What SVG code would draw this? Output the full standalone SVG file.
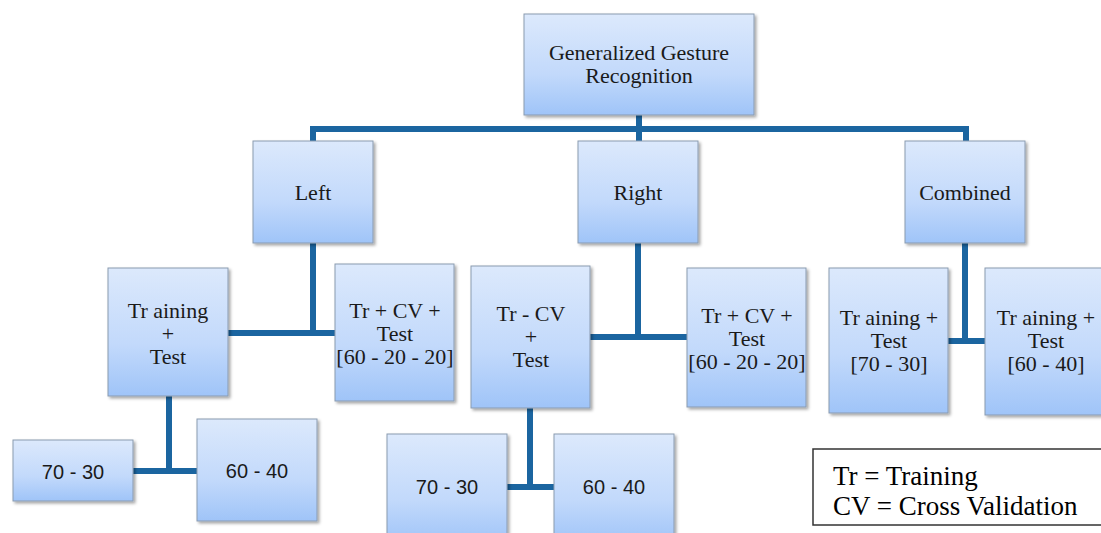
<svg xmlns="http://www.w3.org/2000/svg" width="1101" height="533" viewBox="0 0 1101 533">
<defs>
<linearGradient id="g" x1="0" y1="0" x2="0" y2="1">
<stop offset="0" stop-color="#dce9fc"/>
<stop offset="0.6" stop-color="#c2d9fb"/>
<stop offset="1" stop-color="#9fc4f8"/>
</linearGradient>
<filter id="sh" x="-10%" y="-10%" width="120%" height="120%">
<feDropShadow dx="2" dy="2" stdDeviation="1.5" flood-color="#000" flood-opacity="0.35"/>
</filter>
</defs>
<style>
.box{fill:url(#g);stroke:#8a9bb0;stroke-width:1;filter:url(#sh)}
.t{font-family:'Liberation Serif','Times New Roman','DejaVu Serif',serif;font-size:22px;fill:#1a1a1a;text-anchor:middle}
.s{font-family:'Liberation Sans','DejaVu Sans',sans-serif;font-size:20px;fill:#1a1a1a;text-anchor:middle}
.c{fill:none;stroke:#1b65a0;stroke-width:6;stroke-linecap:butt;stroke-linejoin:miter}
.lg{font-family:'Liberation Serif','Times New Roman','DejaVu Serif',serif;font-size:27px;fill:#000}
</style>
<rect width="1101" height="533" fill="#fff"/>
<g id="connectors">
<path class="c" d="M639 115 V129 M313 141 V129 H966 V141 M639 129 V141"/>
<path class="c" d="M313 243 V333 M228 333 H335"/>
<path class="c" d="M638 243 V337 M590 337 H687"/>
<path class="c" d="M965 243 V344 M948 341 H985"/>
<path class="c" d="M169 396 V471 M133 471 H197"/>
<path class="c" d="M530 408 V487 M507 487 H554"/>
</g>
<g id="root"><rect class="box" x="524" y="14" width="230" height="101"/>
<text class="t" x="639" y="60">Generalized Gesture</text><text class="t" x="639" y="83">Recognition</text></g>
<g id="left"><rect class="box" x="253" y="141" width="120" height="102"/><text class="t" x="313" y="200">Left</text></g>
<g id="right"><rect class="box" x="578" y="141" width="120" height="102"/><text class="t" x="638" y="200">Right</text></g>
<g id="combined"><rect class="box" x="905" y="141" width="120" height="102"/><text class="t" x="965" y="200">Combined</text></g>
<g id="left-train-test"><rect class="box" x="108" y="268" width="120" height="128"/>
<text class="t" x="168" y="318">Tr aining</text><text class="t" x="168" y="341">+</text><text class="t" x="168" y="364">Test</text></g>
<g id="left-tr-cv-test"><rect class="box" x="335" y="264" width="119" height="137"/>
<text class="t" x="395" y="318">Tr + CV +</text><text class="t" x="395" y="341">Test</text><text class="t" x="395" y="364">[60 - 20 - 20]</text></g>
<g id="right-tr-cv-test-a"><rect class="box" x="471" y="266" width="119" height="142"/>
<text class="t" x="531" y="321">Tr - CV</text><text class="t" x="531" y="344">+</text><text class="t" x="531" y="367">Test</text></g>
<g id="right-tr-cv-test-b"><rect class="box" x="687" y="268" width="119" height="139"/>
<text class="t" x="747" y="323">Tr + CV +</text><text class="t" x="747" y="346">Test</text><text class="t" x="747" y="369">[60 - 20 - 20]</text></g>
<g id="comb-70-30"><rect class="box" x="829" y="268" width="119" height="145"/>
<text class="t" x="889" y="325">Tr aining +</text><text class="t" x="889" y="348">Test</text><text class="t" x="889" y="371">[70 - 30]</text></g>
<g id="comb-60-40"><rect class="box" x="985" y="268" width="121" height="147"/>
<text class="t" x="1046" y="325">Tr aining +</text><text class="t" x="1046" y="348">Test</text><text class="t" x="1046" y="371">[60 - 40]</text></g>
<g id="left-70-30"><rect class="box" x="13" y="440" width="120" height="61"/><text class="s" x="73" y="479">70 - 30</text></g>
<g id="left-60-40"><rect class="box" x="197" y="419" width="120" height="102"/><text class="s" x="257" y="478">60 - 40</text></g>
<g id="right-70-30"><rect class="box" x="387" y="434" width="120" height="110"/><text class="s" x="447" y="494">70 - 30</text></g>
<g id="right-60-40"><rect class="box" x="554" y="434" width="120" height="110"/><text class="s" x="614" y="494">60 - 40</text></g>
<g id="legend"><rect x="813" y="449" width="300" height="76" fill="#fff" stroke="#333" stroke-width="1.5"/>
<text class="lg" x="833" y="485">Tr = Training</text><text class="lg" x="833" y="515">CV = Cross Validation</text></g>
</svg>
